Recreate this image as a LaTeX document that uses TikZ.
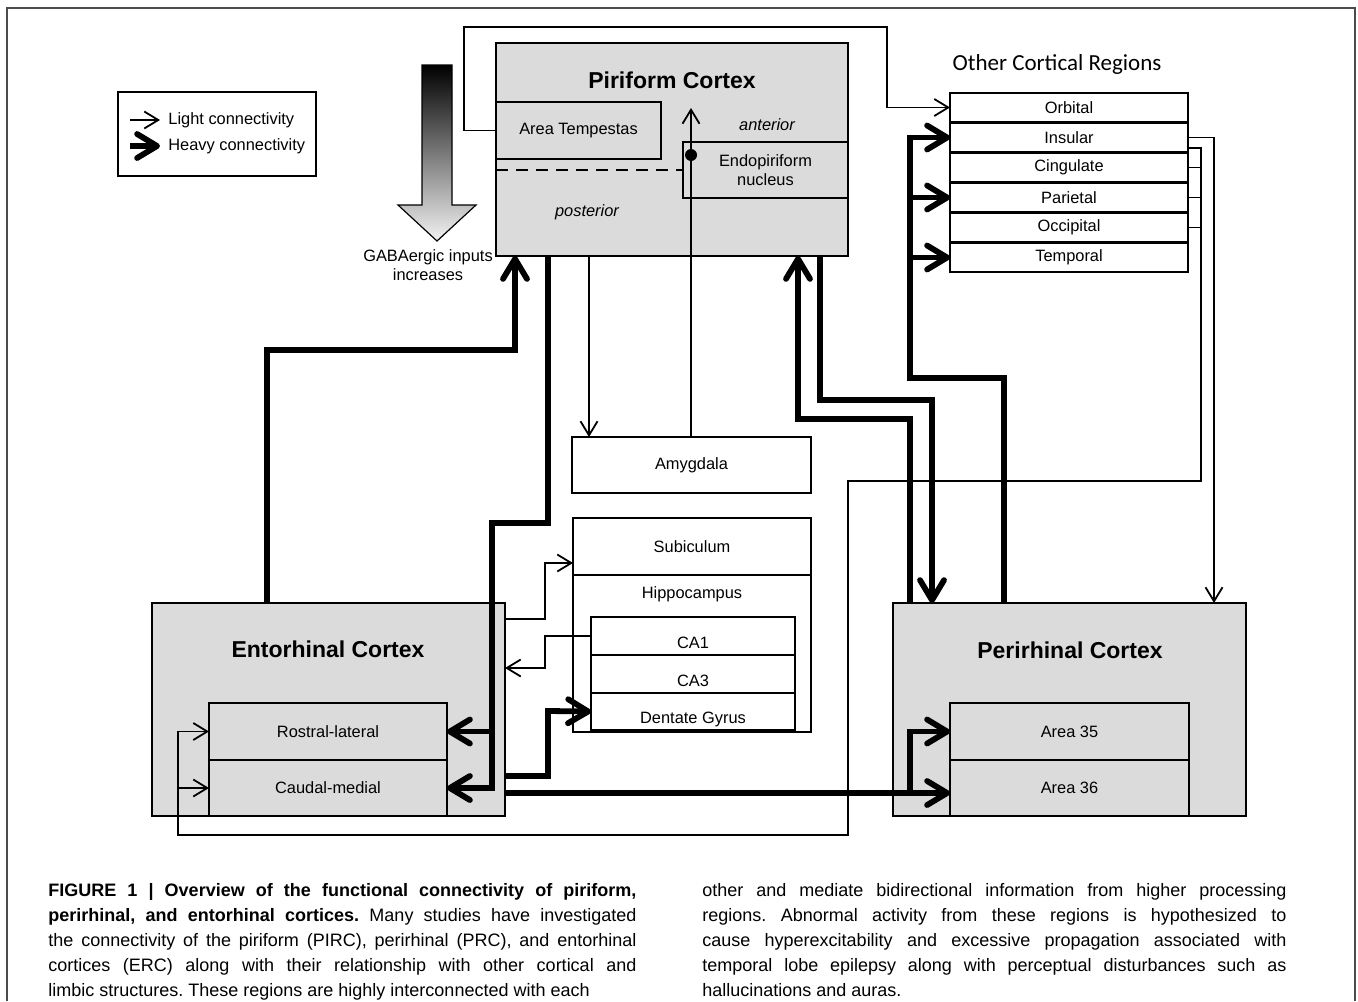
\documentclass[tikz,border=0pt]{standalone}
\usepackage{fontspec}
\setmainfont{Liberation Sans}
\newfontfamily\calfont{Carlito}
\usetikzlibrary{arrows.meta,positioning}
\definecolor{boxgray}{gray}{0.86}
\definecolor{framegray}{gray}{0.3}
\newcommand{\lblfont}{\fontsize{8.2}{9.6}\selectfont}
\newcommand{\titlefont}{\fontsize{11.5}{13}\selectfont\bfseries}
\newcommand{\capfont}{\fontsize{9}{12.5}\selectfont\frenchspacing}

\begin{document}
\begin{tikzpicture}[x=0.5pt,y=-0.5pt]
	\tikzset{cortex/.style = {draw, fill=boxgray, line width=1pt, inner sep=0pt, outer sep=0pt}}
	\tikzset{region/.style = {draw, fill=white, line width=1pt, inner sep=0pt, outer sep=0pt,
			font=\lblfont, align=center, minimum width=119pt}}
	\tikzset{sub/.style = {region, fill=boxgray}}
	\tikzset{lbl/.style = {inner sep=0pt, font=\lblfont, align=center}}
	\tikzset{title/.style = {inner sep=0pt, font=\titlefont}}
	\tikzset{dot/.style = {circle, fill, inner sep=0pt, minimum size=6pt}}
	\tikzset{wire/.style = {line width=0.9pt}}
	\tikzset{lite/.style = {wire, -{Straight Barb[length=7pt,width=8.5pt]}}}
	\tikzset{heavy/.style = {line width=2.9pt, -{Straight Barb[round,length=10pt,width=12pt]}}}
	\useasboundingbox (0,0) rectangle (1358,1001);
	\draw[framegray, line width=0.7pt] (7,1001) -- (7,8) -- (1355,8) -- (1355,1001);
	% legend
	\node[draw, line width=1pt, minimum width=99pt, minimum height=42pt, inner sep=0pt] (legend) at (217,134) {};
	\node[lbl, anchor=west, inner sep=4pt] (lglight) at (160,120) {Light connectivity};
	\node[lbl, anchor=west, inner sep=4pt] (lgheavy) at (160,146) {Heavy connectivity};
	\coordinate (lgla) at (130,120);
	\coordinate (lgha) at (130,146);
	\draw[lite] (lgla) -- (lglight.west);
	\draw[heavy] (lgha) -- (lgheavy.west);
	% gabaergic arrow
	\shade[draw=black, line width=0.6pt, top color=black, bottom color=gray!10]
		(422,65) -- (452,65) -- (452,205) -- (476,205) -- (437,241) -- (398,205) -- (422,205) -- cycle;
	\node[lbl] (gaba) at (428,265) {GABAergic inputs\\increases};
	% piriform
	\node[cortex, minimum width=176pt, minimum height=106.5pt] (pir) at (672,149.5) {};
	\node[title] (pirtitle) at (672,80) {Piriform Cortex};
	\node[sub, minimum width=82.5pt, minimum height=28.5pt] (tempestas) at (578.5,130.5) {Area Tempestas};
	\node[sub, minimum width=82.5pt, minimum height=28pt] (endo) at (765.5,170) {Endopiriform\\nucleus};
	\node[lbl, font=\lblfont\itshape] (ant) at (767,125) {anterior};
	\node[lbl, font=\lblfont\itshape] (post) at (587,212) {posterior};
	\draw[wire, dashed, dash pattern=on 6pt off 4pt] (pir.west |- 0,170) -- (endo.west |- 0,170);
	% other cortical regions
	\node[inner sep=0pt, font=\calfont\fontsize{11.5}{13}\selectfont] (ocr) at (1057,64) {Other Cortical Regions};
	\node[region, minimum height=14.5pt] (orbital) at (1069,107.5) {Orbital};
	\node[region, minimum height=14.5pt, below=0.5pt of orbital] (insular) {Insular};
	\node[region, minimum height=14.5pt, below=0.5pt of insular] (cingulate) {Cingulate};
	\node[region, minimum height=14.5pt, below=0.5pt of cingulate] (parietal) {Parietal};
	\node[region, minimum height=14.5pt, below=0.5pt of parietal] (occipital) {Occipital};
	\node[region, minimum height=14.5pt, below=0.5pt of occipital] (temporal) {Temporal};
	% amygdala and hippocampus
	\node[region, minimum width=119.5pt, minimum height=28pt] (amyg) at (691.5,465) {Amygdala};
	\node[region, minimum height=28.5pt] (subic) at (692,546.5) {Subiculum};
	\node[region, minimum height=78.5pt, below=0pt of subic] (hippo) {};
	\node[lbl] (hippolbl) at (692,594) {Hippocampus};
	\node[region, minimum width=102pt, minimum height=19pt, text height=12pt, text depth=0pt] (ca1) at (693,636) {CA1};
	\node[region, minimum width=102pt, minimum height=19pt, text height=12pt, text depth=0pt, below=0pt of ca1] (ca3) {CA3};
	\node[region, minimum width=102pt, minimum height=18.5pt, text height=12pt, text depth=0pt, below=0pt of ca3] (dg) {Dentate Gyrus};
	% entorhinal
	\node[cortex, minimum width=176.5pt, minimum height=106.5pt] (ent) at (328.5,709.5) {};
	\node[title] (enttitle) at (328,649.5) {Entorhinal Cortex};
	\node[sub, minimum height=28.5pt] (rostral) at (328,731.5) {Rostral-lateral};
	\node[sub, minimum height=28pt, below=0pt of rostral] (caudal) {Caudal-medial};
	% perirhinal
	\node[cortex, minimum width=176.5pt, minimum height=106.5pt] (per) at (1069.5,709.5) {};
	\node[title] (pertitle) at (1070,650.5) {Perirhinal Cortex};
	\node[sub, minimum width=119.5pt, minimum height=28.5pt] (area35) at (1069.5,731.5) {Area 35};
	\node[sub, minimum width=119.5pt, minimum height=28pt, below=0pt of area35] (area36) {Area 36};
	% light edges
	\draw[lite] (tempestas.west) -| (464,27) -| (887,0 |- orbital.west) -- (orbital.west);
	\draw[lite] (589,0 |- pir.south) -- (589,0 |- amyg.north);
	\coordinate (antip) at (691,108);
	\draw[lite] (antip |- amyg.north) -- (antip);
	\node[dot] (endodot) at (691,155) {};
	\draw[lite] (ent.east |- 0,619) -| (545,563) -- (subic.west |- 0,563);
	\draw[lite] (ca1.west) -| (545,668) -- (ent.east |- 0,668);
	\draw[lite] (insular.east) -| (1214,0 |- per.north);
	\draw[lite] (insular.east |- 0,148) -| (1201,481) -| (848,835) -| (178,0 |- rostral.west) -- (rostral.west);
	\coordinate (fb) at (178,835);
	\draw[lite] (fb |- caudal.west) -- (caudal.west);
	\foreach \r in {cingulate,parietal,occipital}
		\draw[wire] (\r.east) -- (1201,0 |- \r.east);
	% heavy edges
	\draw[heavy] (267,0 |- ent.north) |- (515,350) -- (515,0 |- pir.south);
	\draw[heavy] (548,0 |- pir.south) |- (492,523) |- (caudal.east);
	\draw[heavy] (492,0 |- rostral.east) -- (rostral.east);
	\draw[heavy] (ent.east |- 0,776) -| (548,711) -- (dg.west);
	\draw[heavy] (ent.east |- 0,793) -- (area36.west |- 0,793);
	\coordinate (pj) at (910,793);
	\draw[heavy] (pj) |- (area35.west);
	\draw[heavy] (820,0 |- pir.south) |- (932,400) -- (932,0 |- per.north);
	\draw[heavy] (910,0 |- per.north) |- (798,419) -- (798,0 |- pir.south);
	\draw[heavy] (1004,0 |- per.north) |- (910,378) |- (insular.west);
	\foreach \r in {parietal,temporal}
		\draw[heavy] (910,0 |- \r.west) -- (\r.west);
	% caption
	\node[anchor=north west, inner sep=0pt, text width=294pt, align=justify, font=\capfont] (capl) at (48,879)
		{\strut\textbf{FIGURE 1 | Overview of the functional connectivity of piriform,\linebreak
		perirhinal, and entorhinal cortices.} Many studies have investigated\linebreak
		the connectivity of the piriform (PIRC), perirhinal (PRC), and entorhinal\linebreak
		cortices (ERC) along with their relationship with other cortical and\linebreak
		limbic structures. These regions are highly interconnected with each};
	\node[anchor=north west, inner sep=0pt, text width=292pt, align=justify, font=\capfont] (capr) at (702,879)
		{\strut other and mediate bidirectional information from higher processing\linebreak
		regions. Abnormal activity from these regions is hypothesized to\linebreak
		cause hyperexcitability and excessive propagation associated with\linebreak
		temporal lobe epilepsy along with perceptual disturbances such as\linebreak
		hallucinations and auras.};
\end{tikzpicture}
\end{document}
